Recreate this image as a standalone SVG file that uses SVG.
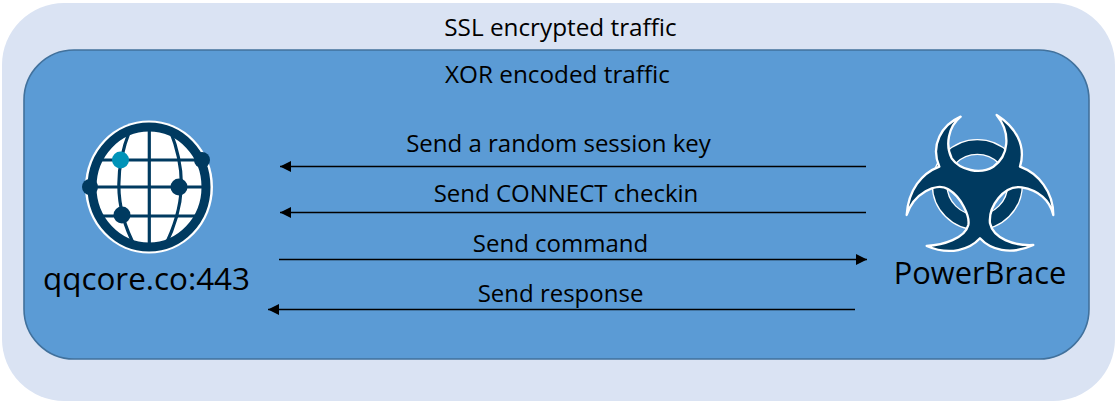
<svg xmlns="http://www.w3.org/2000/svg" width="1120" height="405" viewBox="0 0 1120 405">
<style>
text{font-family:"Open Sans","Noto Sans","Liberation Sans",sans-serif;fill:#000;text-anchor:middle}
.s{font-size:24.300px}
.l{font-size:24px}
.q{font-size:31.400px}
.b{font-size:30.800px}
.c{stroke:#000;stroke-width:1.400;fill:none}
.d{fill:#003a60}
.g{fill:none;stroke:#003a60;stroke-width:3.200}
</style>
<defs>
<marker id="h" markerUnits="userSpaceOnUse" markerWidth="12" markerHeight="12" refX="11" refY="6" orient="auto-start-reverse"><path d="M0 .5L11 6L0 11.500Z" fill="#000"/></marker>
<clipPath id="gc"><ellipse cx="149" cy="187" rx="56" ry="60"/></clipPath>
</defs>
<rect width="1120" height="405" fill="#fff"/>
<g id="outer"><rect x="2" y="3" width="1113" height="398" rx="62" fill="#dae3f3"/><text class="s" x="560.500" y="36">SSL encrypted traffic</text></g>
<g id="inner"><rect x="24" y="50" width="1065" height="309" rx="50" fill="#5b9bd5" stroke="#41719c" stroke-width="1.600"/><text class="s" x="557.500" y="83">XOR encoded traffic</text></g>
<g id="connectors">
<line class="c" x1="866" y1="166.500" x2="280" y2="166.500" marker-end="url(#h)"/>
<line class="c" x1="866" y1="212.500" x2="280" y2="212.500" marker-end="url(#h)"/>
<line class="c" x1="279" y1="259.500" x2="867" y2="259.500" marker-end="url(#h)"/>
<line class="c" x1="855" y1="309.500" x2="268" y2="309.500" marker-end="url(#h)"/>
<text class="l" x="558.500" y="151.500">Send a random session key</text>
<text class="l" x="566" y="201.500">Send CONNECT checkin</text>
<text class="l" x="560.500" y="251.500">Send command</text>
<text class="l" x="560.500" y="301.500">Send response</text>
</g>
<g id="qqcore">
<ellipse cx="149" cy="187" rx="64" ry="66.500" fill="#fff"/>
<g clip-path="url(#gc)">
<path class="g" d="M149.300 120V254M85 160H213M85 187H213M85 216H213"/>
<path class="g" d="M130 130C116 165 112 205 136 248M170 130C186 170 186 205 164 248"/>
</g>
<ellipse cx="149" cy="187" rx="57" ry="60" fill="none" stroke="#003a60" stroke-width="9"/>
<circle class="d" cx="90" cy="187" r="8"/>
<circle class="d" cx="202" cy="160" r="8"/>
<circle class="d" cx="179" cy="187" r="8.500"/>
<circle class="d" cx="122" cy="215" r="8.500"/>
<circle cx="120.500" cy="160" r="8.500" fill="#0093b8"/>
<text class="q" x="146.500" y="290">qqcore.co:443</text>
</g>
<g id="powerbrace">
<g transform="translate(880 110) scale(.3333)">
<circle cx="292" cy="224" r="113" fill="none" stroke="#fff" stroke-width="48"/>
<circle cx="292" cy="224" r="113" fill="none" stroke="#003a60" stroke-width="40"/>
<path fill="#003a60" stroke="#fff" stroke-width="7" stroke-linejoin="round" d="M242 20C185 45 150 105 178 170C125 190 85 240 80 315C100 250 170 215 205 238C245 262 270 320 265 345C255 385 190 405 140 408C210 438 270 418 300 385C330 418 390 438 460 405C400 408 340 385 330 340C325 290 370 225 425 232C475 240 510 270 520 315C520 245 475 190 420 170C440 105 405 50 350 15C395 70 385 140 340 170C300 195 240 180 215 145C195 105 205 50 242 20Z"/>
</g>
<text class="b" x="980" y="284">PowerBrace</text>
</g>
</svg>
